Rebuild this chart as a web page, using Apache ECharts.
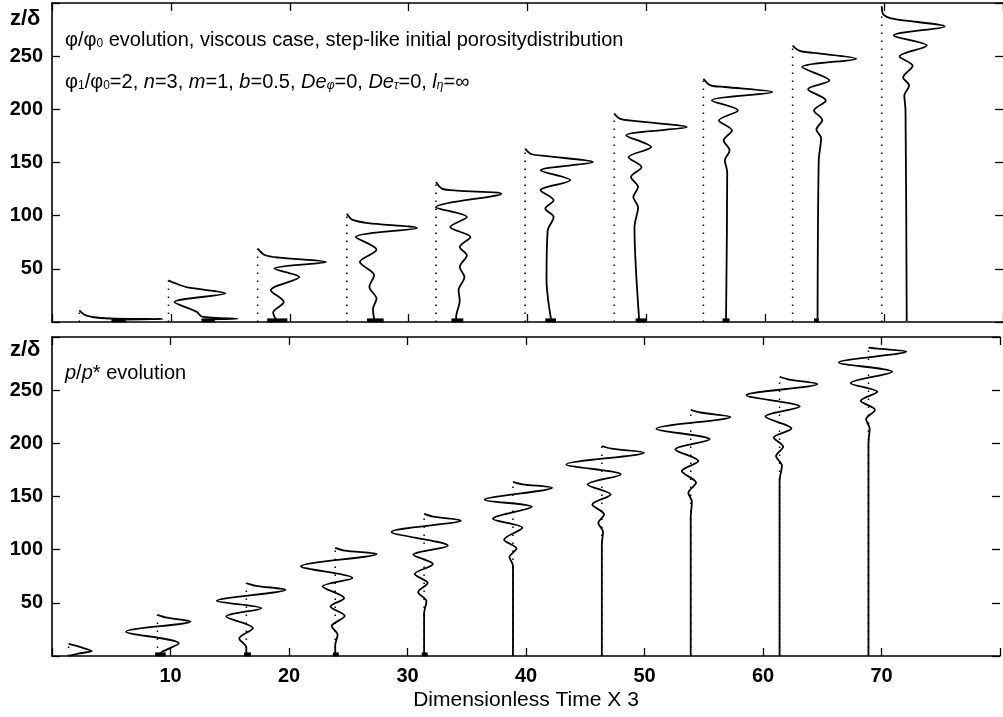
<!DOCTYPE html>
<html>
<head>
<meta charset="utf-8">
<script src="https://cdn.jsdelivr.net/npm/echarts@6/dist/echarts.min.js"></script>
<style>
html,body{margin:0;padding:0;background:#fff;}
#c{width:1003px;height:717px;}
</style>
</head>
<body>
<div id="c"></div>
<script>
// ---- data ----
// x positions (dimensionless time x3) of the phi profiles (dotted reference lines)
const tPhi = [2.3, 9.8, 17.3, 24.8, 32.3, 39.8, 47.3, 54.8, 62.3, 69.8];
// phi/phi0 profiles: [x offset from reference line, z/delta], top to bottom
const phi0 = [[0,11],[0.5,6.5],[1.6,4],[3,3.2],[7,2.9],[3.5,2.2],[3,1]];
const phi1 = [[0,39.2],[0.6,36.3],[1.6,32.5],[4.8,27],[0.5,18.8],[2.4,9.4],[2.8,5],[5.8,3],[2.8,2.2],[3,1]];
const phi2 = [[0,69],[0.6,63],[1.8,60.5],[5.75,56.4],[1.4,50.2],[3.5,42.3],[1.1,29.8],[2.2,18.8],[1.3,9],[1.5,3],[1.7,1]];
const phi3 = [[0,101.9],[0.5,96],[1.8,93],[5.9,88.4],[0.75,79.9],[2.5,68],[1.1,56.4],[2.3,44],[1.9,33],[2.5,22],[2.2,12],[2.3,3],[2.4,1]];
const phi4 = [[0,131.6],[0.5,125.5],[1.8,123.5],[5.5,120.7],[0,108],[2.6,98.7],[1.2,89.3],[2.9,79.9],[2.0,70.5],[2.6,62.7],[2.0,51.7],[2.4,42.3],[1.9,30],[2.0,20],[1.7,5],[1.7,1]];
const phi5 = [[0,163],[0.5,158],[1.8,156],[5.7,150.4],[1.3,142.6],[3.8,133.2],[1.3,123.8],[2.4,114.4],[1.7,106.6],[2.4,98.7],[1.9,86],[1.8,40],[2.2,1]];
const phi6 = [[0,195.9],[0.5,191],[1.8,189],[6.1,183.3],[1.0,175.5],[3.1,164.5],[1.2,155],[2.3,145.7],[1.4,136.3],[2.0,126.9],[1.6,117.5],[2.0,108],[1.7,89],[2.1,1]];
const phi7 = [[0,228.7],[0.6,222.6],[1.8,221],[5.8,216.2],[0.7,208.4],[2.9,199],[1.3,189.6],[2.4,180.2],[1.7,170.8],[2.2,161.4],[1.8,152],[2.0,141],[1.9,1]];
const phi8 = [[0,260],[0.6,255],[1.8,253],[5.35,247.6],[0.8,239.7],[3.1,227],[1.3,219],[2.8,208.4],[1.8,199],[2.5,190],[2.0,181],[2.4,173],[2.2,152],[2.1,1]];
const phi9 = [[0,297],[0.15,289],[1.0,285],[5.3,278],[1.0,269.5],[3.8,260],[1.5,249.7],[2.6,241],[1.8,230],[2.3,222.5],[1.9,213],[2.0,199],[2.1,1]];
const phiProfiles = [phi0, phi1, phi2, phi3, phi4, phi5, phi6, phi7, phi8, phi9];
// thick remnant marks at the base of the phi profiles [x1, x2]
const phiBlobs = [[5.0,6.2],[12.6,13.7],[18.1,19.8],[26.5,27.9],[33.6,34.6],[41.5,42.4],[49.1,50.0],[56.4,57.0],[64.1,64.5]];

// x positions of the p/p* profiles (baselines)
const tP = [1.4, 8.9, 16.4, 23.9, 31.4, 38.9, 46.4, 53.9, 61.4, 68.9];
const p0 = [[0,11.3],[1.0,8.3],[1.95,4.7],[0.8,2.2],[0,0]];
const p1 = [[0,38.7],[0.8,36],[2.8,32.4],[-2.65,22.9],[1.8,12],[0.4,4],[0,0.5]];
const p2 = [[0,68.6],[0.8,66],[3.3,62.3],[-2.5,51.9],[1.25,45],[-1.7,37.1],[0.55,26.1],[-0.6,16.5],[0,8],[0,0]];
const p3 = [[0,101.6],[0.8,99],[3.5,95.9],[-2.9,84.3],[1.45,73.3],[-1.06,65.4],[0.75,54.4],[-0.4,46.5],[0.8,37.7],[-0.3,28],[0.2,20],[0,10],[0,0]];
const p4 = [[0,133.7],[0.8,131],[3.1,127.4],[-2.75,116.7],[2.0,103.8],[-0.9,95.3],[0.75,86.5],[-0.8,77],[0.3,68.6],[-0.5,60],[0.2,51.6],[0,40],[0,0]];
const p5 = [[0,163.8],[0.8,161.5],[3.3,158.2],[-2.4,147],[1.6,140.3],[-1.7,129],[0.8,120.5],[-0.75,109.4],[0.3,101],[-0.3,93],[0,85],[0,0]];
const p6 = [[0,197.5],[0.8,195],[3.55,191.2],[-3.0,180.2],[1.6,170.8],[-1.2,161.3],[0.75,151.9],[-0.8,142.5],[0.2,133],[-0.3,125],[0.1,117],[0,105],[0,0]];
const p7 = [[0,231.4],[0.8,229],[3.35,224.8],[-2.9,213.8],[1.6,203.8],[-1.3,194.3],[0.65,183.3],[-0.75,173.9],[0.45,162.9],[-0.2,153.5],[0.1,145],[0,130],[0,0]];
const p8 = [[0,262.6],[0.8,260],[3.2,255.7],[-2.8,245.3],[1.7,234.6],[-1.2,225.2],[1.0,213.9],[-0.5,205.4],[0.3,196.9],[-0.3,188],[0.2,179],[0,165],[0,0]];
const p9 = [[0,290],[0.8,289],[3.2,286.3],[-2.5,276.1],[2.0,267.3],[-1.5,256.6],[0.75,248.4],[-0.65,240],[0.55,231.4],[-0.2,222.6],[0.1,214],[0,200],[0,0]];
const pProfiles = [p0, p1, p2, p3, p4, p5, p6, p7, p8, p9];
const pBlobs = [[8.7,9.6],[16.2,16.8],[23.7,24.2],[31.2,31.7]];

const xTickLabels = [10, 20, 30, 40, 50, 60, 70];
const yTickLabels = [50, 100, 150, 200, 250];
const blobZ = 1.5;

// ---- chart ----
const FONT = '"Liberation Sans", Arial, Helvetica, sans-serif';
const chart = echarts.init(document.getElementById('c'), null, {renderer: 'canvas'});

function xAx(grid, pos, labels) {
  const a = {
    gridIndex: grid, type: 'value', min: 0, max: 80, interval: 10, position: pos,
    axisLine: {show: true, onZero: false, lineStyle: {color: '#000', width: 1.6}},
    axisTick: {show: true, inside: true, length: 8, lineStyle: {color: '#000', width: 1.3}},
    splitLine: {show: false},
    axisLabel: {show: false}
  };
  if (labels) {
    a.axisLabel = {show: true, margin: 10, color: '#000', fontSize: 20, fontWeight: 'bold', fontFamily: FONT,
      formatter: v => xTickLabels.indexOf(v) >= 0 ? String(v) : ''};
    a.name = 'Dimensionless Time X 3';
    a.nameLocation = 'middle';
    a.nameGap = 34;
    a.nameTextStyle = {color: '#000', fontSize: 21, fontFamily: FONT};
  }
  return a;
}
function yAx(grid, pos, labels) {
  const a = {
    gridIndex: grid, type: 'value', min: 0, max: 300, interval: 50, position: pos,
    axisLine: {show: pos === 'left', onZero: false, lineStyle: {color: '#000', width: 1.6}},
    axisTick: {show: true, inside: true, length: 8, lineStyle: {color: '#000', width: 1.3}},
    splitLine: {show: false},
    axisLabel: {show: false}
  };
  if (labels) {
    a.axisLabel = {show: true, margin: 9, color: '#000', fontSize: 20, fontWeight: 'bold', fontFamily: FONT,
      formatter: v => yTickLabels.indexOf(v) >= 0 ? String(v) : ''};
  }
  return a;
}

const series = [];
const curveStyle = {color: '#000', width: 1.8};
const dotStyle = {color: '#000', width: 1.5, type: [1.5, 6.5]};

tPhi.forEach((t, k) => {
  const prof = phiProfiles[k];
  series.push({type: 'line', xAxisIndex: 0, yAxisIndex: 0, showSymbol: false, silent: true,
    data: [[t, 0], [t, prof[0][1]]], lineStyle: dotStyle});
  series.push({type: 'line', xAxisIndex: 0, yAxisIndex: 0, showSymbol: false, silent: true, smooth: 0.3,
    data: prof.map(p => [t + p[0], p[1]]), lineStyle: curveStyle});
});
phiBlobs.forEach(b => {
  series.push({type: 'line', xAxisIndex: 0, yAxisIndex: 0, showSymbol: false, silent: true,
    data: [[b[0], blobZ], [b[1], blobZ]], lineStyle: {color: '#000', width: 4}});
});
tP.forEach((t, k) => {
  const prof = pProfiles[k];
  series.push({type: 'line', xAxisIndex: 2, yAxisIndex: 2, showSymbol: false, silent: true,
    data: [[t, 0], [t, prof[0][1]]], lineStyle: dotStyle});
  series.push({type: 'line', xAxisIndex: 2, yAxisIndex: 2, showSymbol: false, silent: true, smooth: 0.3,
    data: prof.map(p => [t + p[0], p[1]]), lineStyle: curveStyle});
});
pBlobs.forEach(b => {
  series.push({type: 'line', xAxisIndex: 2, yAxisIndex: 2, showSymbol: false, silent: true,
    data: [[b[0], blobZ], [b[1], blobZ]], lineStyle: {color: '#000', width: 4}});
});

const base = {fontSize: 20, fontFamily: FONT, fill: '#000', lineHeight: 24, verticalAlign: 'bottom'};
const it = Object.assign({}, base, {fontStyle: 'italic'});
const sub = {fontSize: 12, fontFamily: FONT, fill: '#000', lineHeight: 18, verticalAlign: 'bottom'};
const subI = Object.assign({}, sub, {fontStyle: 'italic'});

chart.setOption({
  animation: false,
  backgroundColor: '#fff',
  grid: [
    {left: 52, top: 3, width: 954, height: 319, containLabel: false},
    {left: 52, top: 337, width: 954, height: 319, containLabel: false}
  ],
  xAxis: [xAx(0, 'bottom', false), xAx(0, 'top', false), xAx(1, 'bottom', true), xAx(1, 'top', false)],
  yAxis: [yAx(0, 'left', true), yAx(0, 'right', false), yAx(1, 'left', true), yAx(1, 'right', false)],
  series: series,
  graphic: [
    {type: 'text', x: 10, y: 19, style: {text: 'z/δ', font: 'bold 22px ' + FONT, fill: '#000', verticalAlign: 'middle'}},
    {type: 'text', x: 10, y: 350, style: {text: 'z/δ', font: 'bold 22px ' + FONT, fill: '#000', verticalAlign: 'middle'}},
    {type: 'text', x: 65, y: 26, style: {
      text: '{a|φ/φ}{s|0}{a| evolution, viscous case, step-like initial porositydistribution}',
      rich: {a: base, s: sub}}},
    {type: 'text', x: 65, y: 68, style: {
      text: '{a|φ}{s|1}{a|/φ}{s|0}{a|=2, }{i|n}{a|=3, }{i|m}{a|=1, }{i|b}{a|=0.5, }{i|De}{si|φ}{a|=0, }{i|De}{si|τ}{a|=0, }{i|l}{si|η}{a|=∞}',
      rich: {a: base, s: sub, i: it, si: subI}}},
    {type: 'text', x: 65, y: 359, style: {
      text: '{i|p}{a|/}{i|p}{a|* evolution}',
      rich: {a: base, i: it}}}
  ]
});
</script>
</body>
</html>
